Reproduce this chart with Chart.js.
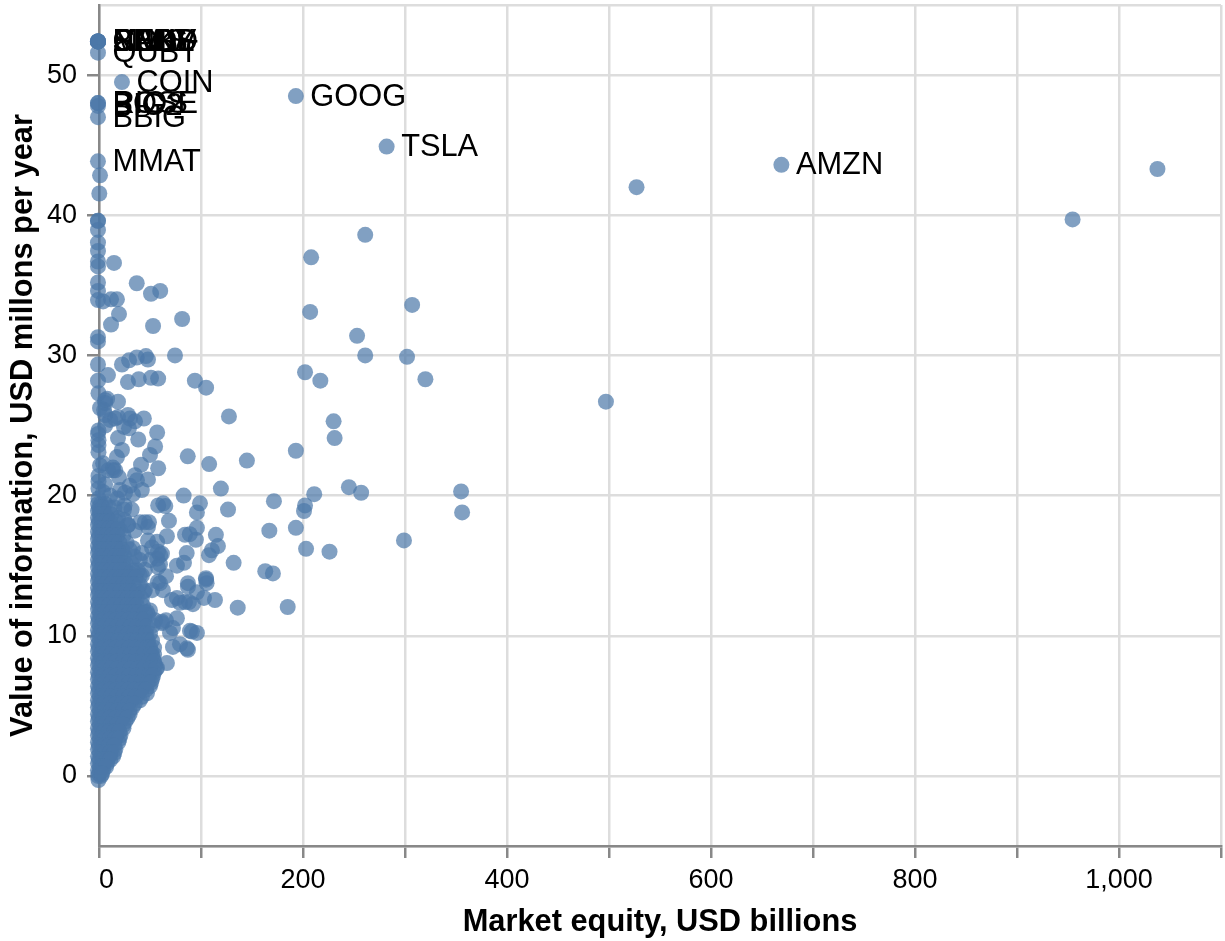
<!DOCTYPE html>
<html><head><meta charset="utf-8">
<style>html,body{margin:0;padding:0;background:#fff}canvas{display:block}</style>
<script src="https://cdn.jsdelivr.net/npm/chart.js@4"></script>
</head><body><canvas id="c" width="1225" height="941"></canvas>
<script>
const xTickValues=[0,100,200,300,400,500,600,700,800,900,1000,1100];
const yTickValues=[-5,0,10,20,30,40,50,55];
const xTitle='Market equity, USD billions';
const yTitle='Value of information, USD millons per year';
// labelled companies
const labelNames=['SENS','BBBY','CLOV','SNDL','NAKD','MVIS','CCIV','QUBT','COIN','RIOS','BOSE','BIG2','BBIG','MMAT','GOOG','TSLA','AMZN'];
const labelEquity=[-1,-1,-1,-1,-1,-1,-1,-1,22.5,-1,-1,-1,-1,-1,193,282,669];
const labelValue=[52.4,52.4,52.4,52.4,52.4,52.4,52.4,51.6,49.5,48,48,47.8,47,43.85,48.5,44.9,43.6];
// scattered companies
const sparseEquity=[1037.7,954.5,527,497,261,208,207,307,253,261,302,320,202,217,230,231,193,127.4,145,108,87,119.5,211,245,257,355,356,299,226,203,193,167,171.5,201,202,163,170.5,185,136,132,126.5,83,
1,0.3,-1,-1,-1,-1,-1,-1,-1,-1,-1,-1,-1,-1,-1,14.7,37,60,51,11.8,4,17.6,19.6,81.5,53,11.8,48,74.5,22.5,37,29.5,46,51,58,39,94,105,8,18.6,28.4,30.4,15.7,18.6,24.5,35.3,44,55,57,29.4,18.6,22.5,17.6,13.7,58,19.6,37.2,48,33.3,65,58,96,99,63,45,40.2,28.4,48,49,68.6,96,114.6,89,84.3,95,66.6,57,116.6,110.7,86,107.8,61.7,57,76.4,83.3,65.7,104.9,105,105.5,87.2,87.2,59.8,57.8,62.7,52,96,79.4,71.5,76.4,84.3,88.2,92.1,102.9,113.7,47,48,61.7,52.9,76.4,65.7,91.1,89.2,96,72.5,79.4,86.2,87.2,72.5,69.6,61.7,56.9,51.9,66.6,57.8,59.8,30.4,42.1,45,51.9,57.8,33.3,42.1,25.5,20.6,24.5,18.6,28.4,20.6,35.3,41.2,13.7,8.8,28.4,
-1,-0.5,6,6,1,6,-0.5,-1,-0.5,-0.5,-0.5,4,1,9,-0.5,6,-0.5,-0.5,4,11,-0.5,11,6,18,
50,45,35,30,40,50,40,35,48,25,32,18,25,12.7,16.7,55,60,42,30,16,6,11,20.5,38.5,50,6,11,5,1,4];
const sparseValue=[43.3,39.7,42,26.7,38.6,37,33.1,33.6,31.4,30,29.9,28.3,28.8,28.2,25.3,24.1,23.2,25.65,22.5,22.25,22.8,20.5,20.1,20.6,20.2,20.3,18.8,16.8,16,16.2,17.7,17.5,19.6,18.9,19.3,14.6,14.45,12.05,12,15.2,19,20,
42.85,41.55,39.6,38.95,38.05,36.7,36.35,35.2,34.6,33.95,31.3,31,29.35,39.6,37.45,36.6,35.15,34.6,34.4,34,33.85,34,32.95,32.6,32.1,32.2,29.7,30,29.35,29.85,29.65,29.95,28.4,28.35,28.3,28.2,27.7,26.9,26.7,25.75,25.5,25.5,25.6,24.9,25.3,25.5,23.5,24.5,24.8,24.1,23.25,22.75,22,21.95,21.3,21.1,21.15,20.1,19.25,19.3,18.8,19.45,19.45,18.1,18.1,17.9,17.75,18.1,18.2,17.7,17.2,17.25,17.2,16.85,17.1,16.7,16.4,16.1,15.9,15.75,15.85,15.5,15,15.2,14.25,14.1,14,13.75,13.75,13.5,13.75,13.85,13.25,13.25,13.1,12.35,12.55,12.7,12.4,12.4,12.25,12.7,12.55,11.7,11.5,11,10.75,11.25,11.1,10.3,10.35,10.2,10.55,9.4,9.1,9,9.2,10.2,10.9,7.7,8.6,8.05,14.9,15.1,14.45,14.3,14.7,16.3,16,16.25,15.9,20.2,20.4,19,18.4,17.9,17.55,21.45,22.2,21.8,
28.6,28.1,28.2,27.3,26.6,26.8,26.25,25.75,24.65,24.4,23.95,23.6,23.1,22.3,22.15,21.8,21.4,20.8,20.5,21,20.25,20,19.8,1.55,
9.7,10.4,11.8,13.25,12.9,12.2,14.3,15.4,15.4,17.5,16.8,19.3,19,19.8,18.25,11.1,9.7,11.1,15.75,20.4,20.7,21.8,17.2,13.6,13.25,24,22.9,25,25.4,26.1];
// the dense cloud near the origin, one list of equities per value
const cloudValue=[19.4,18.9,18.4,17.9,17.4,16.9,16.4,15.9,15.4,14.9,14.4,13.9,13.4,12.9,12.4,11.9,11.4,10.9,10.4,9.9,9.4,8.9,8.4,7.9,7.4,6.9,6.4,5.9,5.4,4.9,4.4,3.9,3.4,2.9,2.4,1.9,1.4,0.9,0.4,0,-0.3];
const cloudEquity=[
[-1,2,6],[-1,1,4],[-1,2,5,8],[-1,3,7],[-1,2,6,9,13],[-1,3,7,12,15],[-1,2,6,11,16],[-1,3,8,13,18],[-1,2,7,12,17,20],
[-1,3,8,14,19,24],[-1,2,7,13,18,23,27],[-1,3,9,15,21,26],[-1,2,7,12,18,24,29],[-1,3,8,14,20,26,30],[-1,2,7,13,19,25,31,34],
[-1,3,9,15,21,27,33,36],[-1,2,8,14,20,26,32,38],[-1,3,9,15,21,28,34,40],[-1,2,8,14,20,26,32,38,43],[-1,3,9,16,22,28,34,40,46],
[-1,2,8,14,20,27,33,39,45,48],[-1,3,9,15,22,28,34,41,47,51],[-1,2,8,14,21,27,33,40,46,53],[-1,3,9,15,22,28,35,41,48,55],
[-1,2,8,14,21,27,34,40,47,54],[-1,3,9,15,21,27,33,39,45,52],[-1,2,8,14,20,26,32,38,44,50],[-1,3,9,15,21,27,33,39,47],
[-1,2,8,14,20,26,32,40],[-1,3,9,15,21,27,33],[-1,2,8,14,20,25,30],[-1,3,9,15,21,26],[-1,2,7,12,18,24],[-1,3,8,13,17,21],
[-1,2,7,12,19],[-1,3,8,12,16],[-1,2,6,10,14],[-1,2,5,8],[-1,1,4],[-1,2],[-0.5]];
const cloudValueB=[19.15,18.65,18.15,17.65,17.15,16.65,16.15,15.65,15.15,14.65,14.15,13.65,13.15,12.65,12.15,11.65,11.15,10.65,10.15,9.65,9.15,8.65,8.15,7.65,7.15,6.65,6.15,5.65,5.15,4.65,4.15,3.65,3.15,2.65,2.15,1.65,1.15,0.65,0.15];
const cloudEquityB=[
[0,4,10,15],[1,6,12],[0,3,7,11,17],[1,5,10,14,19],[0,4,8,13,18,24],[1,5,10,15,20,27],[0,4,9,14,19,23,30],[1,5,11,16,21,25,35],
[0,4,10,15,20,26,32],[1,6,11,16,21,26,33,38],[0,5,10,16,21,25,30,36],[1,6,12,18,24,29,34,40],[0,5,10,15,21,27,32,38,44],
[1,6,11,17,23,28,33,37,42],[0,5,10,16,22,28,33,37,43],[1,6,12,18,24,30,35,39,45],[0,5,11,17,23,29,35,41,44],[1,6,12,18,24,31,37,43,47],
[0,5,11,17,23,29,35,41,46,50],[1,6,12,19,25,31,37,43,48,52],[0,5,11,17,23,30,36,42,47,50,54],[1,6,12,18,25,31,37,44,50,54],
[0,5,11,17,24,30,36,43,49,54],[1,6,12,18,25,31,38,44,50,56],[0,5,11,17,24,30,37,43,49,53],[1,6,12,18,24,30,36,42,48,51],
[0,5,11,17,23,29,35,41,46],[1,6,12,18,24,30,36,42],[0,5,11,17,23,29,35],[1,6,12,18,24,30],[0,5,11,17,23,28],[1,6,12,18,24],
[0,5,10,15,20],[1,6,11,16,20],[0,5,10,15],[1,6,11,15],[0,4,8,11],[1,4,7],[0,3]];

const points=[];
labelEquity.forEach((x,i)=>points.push({x,y:labelValue[i]}));
sparseEquity.forEach((x,i)=>points.push({x,y:sparseValue[i]}));
cloudEquity.forEach((row,i)=>row.forEach(x=>points.push({x,y:cloudValue[i]})));
cloudEquityB.forEach((row,i)=>row.forEach(x=>points.push({x,y:cloudValueB[i]})));

const FONT='"Liberation Sans", Arial, Helvetica, sans-serif';
// marks may overhang the plot area without shrinking it
Chart.registry.getController('scatter').prototype.getMaxOverflow=()=>0;
const labelPlugin={
  id:'pointLabels',
  beforeDraw(chart){
    const zero=chart.scales.x.getLabelItems().find(it=>it.label==='0');
    if(zero){zero.options.textAlign='left';}
  },
  afterDatasetsDraw(chart){
    const {ctx,scales:{x,y}}=chart;
    ctx.save();
    ctx.font='30.8px '+FONT;ctx.fillStyle='#000';ctx.textAlign='left';ctx.textBaseline='middle';
    labelNames.forEach((n,i)=>ctx.fillText(n,x.getPixelForValue(labelEquity[i])+14.5,y.getPixelForValue(labelValue[i])+1));
    ctx.restore();
  }
};
new Chart(document.getElementById('c'),{
  type:'scatter',
  data:{datasets:[{data:points,backgroundColor:'rgba(76,120,168,0.7)',borderWidth:0,pointRadius:8,pointHoverRadius:8,clip:false}]},
  plugins:[labelPlugin],
  options:{
    responsive:false,animation:false,
    layout:{padding:{top:5,right:4,left:0,bottom:0}},
    plugins:{legend:{display:false},tooltip:{enabled:false}},
    scales:{
      x:{type:'linear',min:0,max:1100,
        afterBuildTicks:s=>{s.ticks=xTickValues.map(value=>({value}));},
        afterFit:s=>{s.height=95;s.paddingLeft=0;s.paddingRight=0;},
        border:{color:'#888',width:2.5},
        grid:{color:'#ddd',lineWidth:2.5,tickColor:'#888',tickWidth:2.5,tickLength:12},
        ticks:{autoSkip:false,maxRotation:0,minRotation:0,padding:6,color:'#000',font:{family:FONT,size:27},
          callback:v=>v%200===0?v.toLocaleString('en-US'):''},
        title:{display:true,text:xTitle,color:'#000',font:{family:FONT,size:30.8,weight:'bold'},padding:{top:0,bottom:0}}},
      y:{type:'linear',min:-5,max:55,
        afterBuildTicks:s=>{s.ticks=yTickValues.map(value=>({value}));},
        afterFit:s=>{s.width=99;s.paddingTop=0;s.paddingBottom=0;},
        border:{color:'#888',width:2.5},
        grid:{color:'#ddd',lineWidth:2.5,tickWidth:2.5,tickLength:12,tickColor:c=>(c.tick&&(c.tick.value===-5||c.tick.value===55))?'rgba(0,0,0,0)':'#888'},
        ticks:{autoSkip:false,padding:10,color:'#000',font:{family:FONT,size:27},
          callback:v=>(v===-5||v===55)?'':String(v)},
        title:{display:true,text:yTitle,color:'#000',font:{family:FONT,size:30.8,weight:'bold'},padding:{top:5,bottom:0}}}
    }
  }
});
</script></body></html>
